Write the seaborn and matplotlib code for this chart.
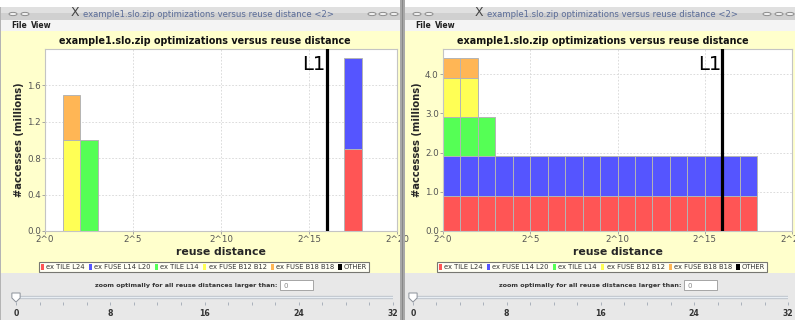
import numpy as np
import pandas as pd
import matplotlib
matplotlib.use("Agg")
import matplotlib.pyplot as plt
from matplotlib.patches import Rectangle, Circle, Polygon
import seaborn as sns

W, H = 795, 320

SERIES = ["ex TILE L24", "ex FUSE L14 L20", "ex TILE L14",
          "ex FUSE B12 B12", "ex FUSE B18 B18", "OTHER"]
COLORS = ["#ff5555", "#5555ff", "#55ff55", "#ffff55", "#ffb655", "#000000"]

# left window: accesses (millions) per log2 reuse-distance bin
left_bin = [17, 17, 2, 1, 1]
left_series = ["ex TILE L24", "ex FUSE L14 L20", "ex TILE L14",
               "ex FUSE B12 B12", "ex FUSE B18 B18"]
left_millions = [0.9, 1.0, 1.0, 1.0, 0.5]

# right window: accesses covered per bin when zooming optimally
right_bin = [0, 1, 2, 3, 4, 5, 6, 7, 8, 9, 10, 11, 12, 13, 14, 15, 16, 17]
right_tile_l24 = [0.9, 0.9, 0.9, 0.9, 0.9, 0.9, 0.9, 0.9, 0.9,
                  0.9, 0.9, 0.9, 0.9, 0.9, 0.9, 0.9, 0.9, 0.9]
right_fuse_l14_l20 = [1.0, 1.0, 1.0, 1.0, 1.0, 1.0, 1.0, 1.0, 1.0,
                      1.0, 1.0, 1.0, 1.0, 1.0, 1.0, 1.0, 1.0, 1.0]
right_tile_l14 = [1.0, 1.0, 1.0, 0, 0, 0, 0, 0, 0,
                  0, 0, 0, 0, 0, 0, 0, 0, 0]
right_fuse_b12 = [1.0, 1.0, 0, 0, 0, 0, 0, 0, 0,
                  0, 0, 0, 0, 0, 0, 0, 0, 0]
right_fuse_b18 = [0.5, 0.5, 0, 0, 0, 0, 0, 0, 0,
                  0, 0, 0, 0, 0, 0, 0, 0, 0]

L1_LOG2 = 16
X_TICKS = [0, 5, 10, 15, 20]
X_TICKLABELS = ["2^0", "2^5", "2^10", "2^15", "2^20"]
LEFT_YTICKS = [0.0, 0.4, 0.8, 1.2, 1.6]
RIGHT_YTICKS = [0.0, 1.0, 2.0, 3.0, 4.0]
SLIDER_TICKS = [0, 8, 16, 24, 32]

TITLE = "example1.slo.zip optimizations versus reuse distance"
WIN_TITLE = "example1.slo.zip optimizations versus reuse distance <2>"

sns.set_theme(style="white")
plt.rcParams["font.family"] = ["DejaVu Sans"]

YELLOW = "#ffffcc"
GRAYBG = "#e8e8e8"


def box(x, y, w, h, z=-10, **kw):
    fig.add_artist(Rectangle((x / W, 1 - (y + h) / H), w / W, h / H,
                             transform=fig.transFigure, zorder=z, **kw))


def ax_at(x, y, w, h):
    return fig.add_axes([x / W, 1 - (y + h) / H, w / W, h / H])


def ftext(x, y, s, **kw):
    fig.text(x / W, 1 - y / H, s, **kw)


def long_frame(bins, series, values):
    df = pd.DataFrame({"bin": bins, "series": series, "millions": values})
    df["center"] = df["bin"] + 0.5
    return df


left_df = long_frame(left_bin, left_series, left_millions)
right_df = pd.concat([
    long_frame(right_bin, [name] * len(right_bin), vals)
    for name, vals in zip(SERIES[:5], [right_tile_l24, right_fuse_l14_l20,
                                       right_tile_l14, right_fuse_b12,
                                       right_fuse_b18])
], ignore_index=True)

palette = dict(zip(SERIES, COLORS))

fig = plt.figure(figsize=(W / 100, H / 100), dpi=100)
fig.patch.set_facecolor("white")


def window(ox, ww, df, yticks, ylim, ax_left, ax_w, sl_left, sl_w):
    # frame and panels
    box(ox, 7, ww, 13, facecolor="#d0d0d0", edgecolor="none")
    box(ox, 7, ww, 6, facecolor="#e0e0e0", edgecolor="none")
    box(ox, 20, ww, 11, facecolor="#f4f4f4", edgecolor="none")
    box(ox, 31, ww, 242, facecolor=YELLOW, edgecolor="none")
    box(ox, 273, ww, 47, facecolor=GRAYBG, edgecolor="none")
    box(ox, 7, 1, 313, z=-9, facecolor="#b4b4b4", edgecolor="none")

    ftext(ox + 11, 26, "File", fontsize=5.5, fontweight="bold", va="center", color="#222")
    ftext(ox + 31, 26, "View", fontsize=5.5, fontweight="bold", va="center", color="#222")

    ftext(ox + 83, 14.5, WIN_TITLE, fontsize=6.1, ha="left", va="center", color="#5a6c98")
    ftext(ox + 75, 12.5, "X", fontsize=9, ha="center", va="center", color="#444")

    ax = ax_at(ax_left, 49, ax_w, 182)
    ax.set_facecolor("white")
    sns.histplot(data=df, x="center", weights="millions", hue="series",
                 hue_order=SERIES[4::-1], palette=palette, bins=20, binrange=(0, 20),
                 multiple="stack", element="bars", shrink=1, alpha=1,
                 edgecolor="#b4b4b4", linewidth=0.7, legend=False, ax=ax)
    for p in list(ax.patches):
        if p.get_height() == 0:
            p.remove()
    ax.axvline(L1_LOG2, color="black", linewidth=2.3, zorder=5)
    ax.text(L1_LOG2 - 0.05, 0.885, "L1", transform=ax.get_xaxis_transform(),
            ha="right", va="baseline", fontsize=14, color="black")
    ax.set_xlim(0, 20)
    ax.set_ylim(*ylim)
    ax.set_xticks(X_TICKS)
    ax.set_xticklabels(X_TICKLABELS)
    ax.set_yticks(yticks)
    ax.set_yticklabels([f"{v:.1f}" for v in yticks])
    ax.tick_params(labelsize=6.3, labelcolor="#555", length=2, width=0.6,
                   color="#999", pad=1, left=True, bottom=True)
    ax.grid(True, color="#d6d6d6", linestyle=(0, (2, 2)), linewidth=0.6)
    ax.set_axisbelow(True)
    for s in ax.spines.values():
        s.set_color("#c4c4c4")
        s.set_linewidth(0.8)
    ax.set_xlabel("reuse distance", fontsize=7.8, fontweight="bold", labelpad=2)
    ax.set_ylabel("#accesses (millions)", fontsize=7.2, fontweight="bold", labelpad=2)

    ftext(ax_left + 160, 41, TITLE, fontsize=6.9, fontweight="bold",
          ha="center", va="center", color="#111")

    handles = [Rectangle((0, 0), 1, 1, facecolor=c, edgecolor="none") for c in COLORS]
    leg = fig.legend(handles, SERIES, loc="center",
                     bbox_to_anchor=((ax_left + 159) / W, 1 - 267 / H),
                     ncol=6, fontsize=4.9, frameon=True, fancybox=False,
                     handlelength=0.45, handleheight=1.0, handletextpad=0.35,
                     columnspacing=0.6, borderpad=0.3, borderaxespad=0)
    leg.get_frame().set_edgecolor("#555")
    leg.get_frame().set_linewidth(0.8)
    for t in leg.get_texts():
        t.set_color("#333")

    # zoom controls
    ftext(ox + 186, 285, "zoom optimally for all reuse distances larger than:",
          fontsize=4.6, fontweight="bold", ha="center", va="center", color="#333")
    box(ox + 280, 280, 33, 10, z=2, facecolor="white", edgecolor="#999", linewidth=0.6)
    ftext(ox + 283, 285.5, "0", fontsize=5.0, va="center", color="#888")

    sl = ax_at(sl_left, 292, sl_w, 10)
    sl.set_facecolor("none")
    sl.set_xlim(0, 32)
    sl.set_ylim(0, 1)
    sl.axhline(0.5, color="#c2c8d0", linewidth=2.4)
    sl.axhline(0.5, color="#e8eef4", linewidth=0.8)
    sl.add_patch(Polygon([[-0.35, 0.9], [0.35, 0.9], [0.35, 0.4], [0, 0.0],
                          [-0.35, 0.4]], closed=True, facecolor="white",
                         edgecolor="#8a9099", linewidth=0.7, zorder=4, clip_on=False))
    sl.set_xticks(SLIDER_TICKS)
    sl.set_xticks(np.arange(0, 33, 2), minor=True)
    sl.set_xticklabels([str(t) for t in SLIDER_TICKS])
    sl.set_yticks([])
    sl.tick_params(axis="x", which="both", bottom=True, length=2.5, width=0.6,
                   color="#a0a8b4", pad=2.5, labelsize=5.6)
    for t in sl.get_xticklabels():
        t.set_fontweight("bold")
        t.set_color("#333")
    for s in sl.spines.values():
        s.set_visible(False)

    # window buttons
    for cx in (ox + 13, ox + 25):
        fig.add_artist(Circle((cx / W, 1 - 14 / H), 4 / W, transform=fig.transFigure,
                              facecolor="#f0f0f0", edgecolor="#8c8c8c", linewidth=0.7, zorder=3))


window(0, 401, left_df, LEFT_YTICKS, (0, 2.0), 45, 352, 16, 377)
window(404, 391, right_df, RIGHT_YTICKS, (0, 4.64), 443, 349, 413, 375)

# right-hand buttons of left window and right window
for cx in (372, 383, 394, 767, 779, 790):
    fig.add_artist(Circle((cx / W, 1 - 14 / H), 4 / W, transform=fig.transFigure,
                          facecolor="#f0f0f0", edgecolor="#8c8c8c", linewidth=0.7, zorder=3))

# divider between the two windows
box(400, 0, 5, 320, z=6, facecolor="#a8a8a8", edgecolor="none")
box(401.5, 0, 1.5, 320, z=6, facecolor="#888888", edgecolor="none")

fig.savefig("out.png", dpi=100)
